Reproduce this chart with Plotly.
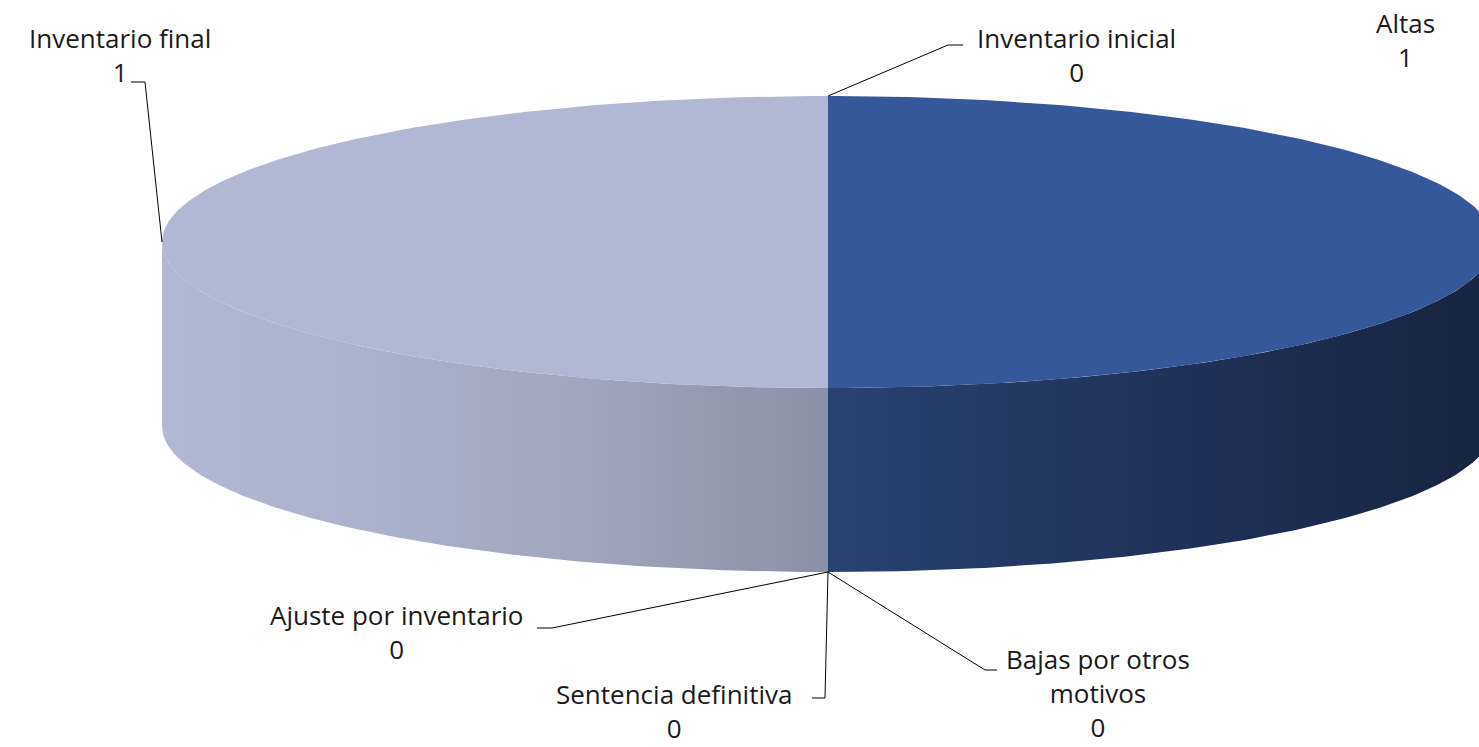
import numpy as np
import plotly.graph_objects as go

# ---- data ----
categories = ["Inventario inicial", "Altas", "Bajas por otros motivos",
              "Sentencia definitiva", "Ajuste por inventario", "Inventario final"]
values = [0, 1, 0, 0, 0, 1]
label_text = ["Inventario inicial<br>0", "Altas<br>1", "Bajas por otros<br>motivos<br>0",
              "Sentencia definitiva<br>0", "Ajuste por inventario<br>0", "Inventario final<br>1"]

# ---- styling / geometry (pixel space) ----
W, H = 1479, 747
CX, CY, RX, RY, DEPTH = 828, 242, 666, 146, 184
top_colors = {"Altas": "#35589A", "Inventario final": "#B0B8D4"}
side_scales = {
    "Altas": [[0, "#284272"], [0.5, "#1F3259"], [1, "#172440"]],
    "Inventario final": [[0, "#B0B8D3"], [0.3, "#ABB2CC"], [0.65, "#9EA5BC"], [1, "#8A90A5"]],
}
# label block centers and leader-line elbows (layout)
label_pos = {
    "Inventario inicial": (1076, 55), "Altas": (1405, 40),
    "Bajas por otros motivos": (1098, 693), "Sentencia definitiva": (674, 711),
    "Ajuste por inventario": (396, 632), "Inventario final": (120, 55),
}
leader_elbow = {
    "Inventario inicial": [(948, 45), (963, 45)],
    "Bajas por otros motivos": [(985, 670), (997, 670)],
    "Sentencia definitiva": [(825, 698), (812, 698)],
    "Ajuste por inventario": [(552, 628), (537, 628)],
    "Inventario final": [(145, 82), (131, 82)],
}

def ex(t):
    return CX + RX * np.sin(np.radians(t))

def ey(t, dy=0.0):
    return CY - RY * np.cos(np.radians(t)) + dy

total = sum(values)
cum = np.concatenate([[0], np.cumsum(values)]) / total * 360.0

fig = go.Figure()

# side walls (front half only: 90..270 deg clockwise from top)
for i, cat in enumerate(categories):
    a, b = cum[i], cum[i + 1]
    if b - a <= 0:
        continue
    s, e = max(a, 90), min(b, 270)
    if e <= s:
        continue
    t = np.linspace(s, e, 120)
    xs = np.concatenate([ex(t), ex(t[::-1])])
    ys = np.concatenate([ey(t), ey(t[::-1], DEPTH)])
    fig.add_trace(go.Scatter(x=xs, y=ys, mode="lines", line=dict(width=0),
                             fill="toself",
                             fillgradient=dict(type="horizontal", colorscale=side_scales[cat]),
                             hoverinfo="skip", showlegend=False))

# top faces
for i, cat in enumerate(categories):
    a, b = cum[i], cum[i + 1]
    if b - a <= 0:
        continue
    t = np.linspace(a, b, 240)
    xs = np.concatenate([[CX], ex(t), [CX]])
    ys = np.concatenate([[CY], ey(t), [CY]])
    fig.add_trace(go.Scatter(x=xs, y=ys, mode="lines", line=dict(width=0),
                             fill="toself", fillcolor=top_colors[cat],
                             hoverinfo="skip", showlegend=False))

# leader lines and labels
for i, cat in enumerate(categories):
    m = (cum[i] + cum[i + 1]) / 2.0
    if 90 < m < 270:
        ax, ay = ex(m), ey(m, DEPTH)
    else:
        ax, ay = ex(m), ey(m)
    if cat in leader_elbow:
        pts = [(ax, ay)] + leader_elbow[cat]
        fig.add_trace(go.Scatter(x=[p[0] for p in pts], y=[p[1] for p in pts],
                                 mode="lines", line=dict(color="black", width=1),
                                 hoverinfo="skip", showlegend=False))
    lx, ly = label_pos[cat]
    fig.add_annotation(x=lx, y=ly, text=label_text[i], showarrow=False,
                       xanchor="center", yanchor="middle", align="center",
                       font=dict(family="Open Sans", size=26, color="#1a1a1a"))

fig.update_layout(
    width=W, height=H, margin=dict(l=0, r=0, t=0, b=0),
    paper_bgcolor="white", plot_bgcolor="white",
    xaxis=dict(range=[0, W], visible=False, fixedrange=True),
    yaxis=dict(range=[H, 0], visible=False, fixedrange=True),
    showlegend=False,
)
fig.write_html("out.html", config={"displayModeBar": False},
               post_script="document.body.style.margin='0';")
